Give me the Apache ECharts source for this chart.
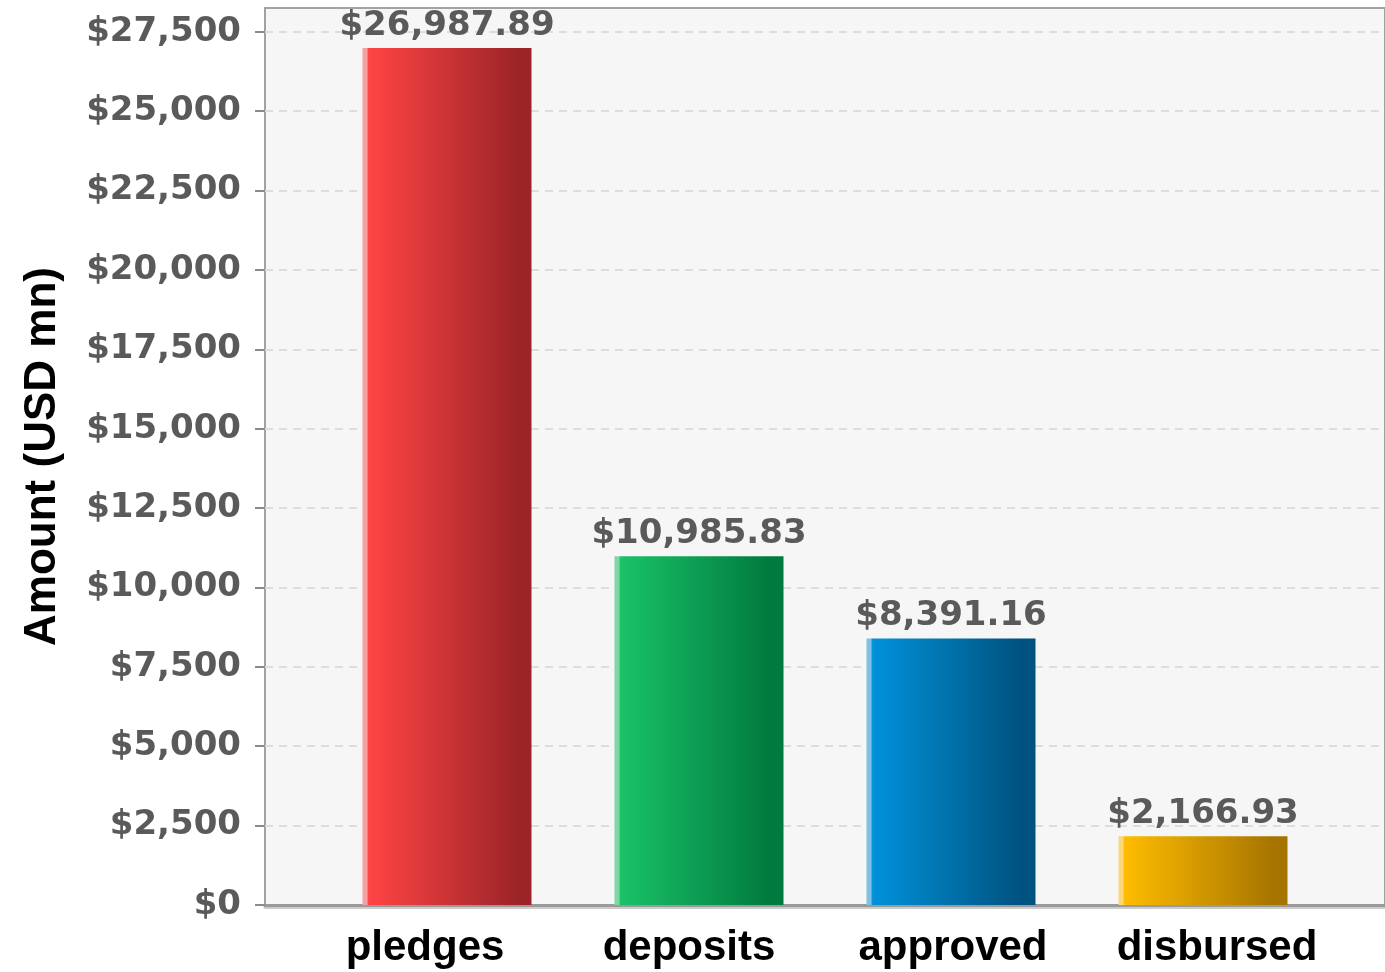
<!doctype html>
<html lang="en">
<head>
    <meta charset="UTF-8">
    <title>Amount (USD mn)</title>
    <style>
        html, body { margin: 0; padding: 0; background: #ffffff; }
        #chart { width: 1385px; height: 972px; }
    </style>
    <script src="https://cdn.jsdelivr.net/npm/echarts@6.0.0/dist/echarts.min.js"></script>
</head>
<body>
<div id="chart"></div>
<script type="text/javascript">
    // data
    var categories = ['pledges', 'deposits', 'approved', 'disbursed'];
    var amounts = [26987.89, 10985.83, 8391.16, 2166.93];
    var yTicks = [0, 2500, 5000, 7500, 10000, 12500, 15000, 17500, 20000, 22500, 25000, 27500];
    var yMax = 28250;

    // bar colours: [highlight, light, dark]
    var barColors = [
        ['#f6a2a2', '#ff4444', '#9c2428'],
        ['#80d6a6', '#1ac268', '#007a3e'],
        ['#80c0e2', '#0092da', '#005280'],
        ['#fcd67a', '#ffbc00', '#a67400']
    ];

    var money = function (v) {
        return '$' + v.toLocaleString('en-US');
    };
    var money2 = function (v) {
        return '$' + v.toLocaleString('en-US', { minimumFractionDigits: 2, maximumFractionDigits: 2 });
    };

    var barData = amounts.map(function (v, i) {
        var c = barColors[i];
        return {
            value: v,
            itemStyle: {
                color: new echarts.graphic.LinearGradient(0, 0, 1, 0, [
                    { offset: 0, color: c[0] },
                    { offset: 0.025, color: c[0] },
                    { offset: 0.036, color: c[1] },
                    { offset: 0.92, color: c[2] },
                    { offset: 1, color: c[2] }
                ])
            }
        };
    });

    var myChart = echarts.init(document.getElementById('chart'), null, { renderer: 'canvas' });
    var option = {
        backgroundColor: '#ffffff',
        animation: false,
        grid: [
            // frame + gridlines
            { left: 265, right: -4, top: 8, bottom: 67, show: true, backgroundColor: '#f6f6f6', borderColor: '#a2a2a2', borderWidth: 2 },
            // bars
            { left: 321, right: 56, top: 8, bottom: 67 },
            // category labels (spaced a little wider than the bars)
            { left: 293, right: 36, top: 8, bottom: 67 }
        ],
        xAxis: [
            {
                type: 'value', gridIndex: 0, min: 0, max: 1,
                axisLine: { show: true, lineStyle: { color: '#9a9a9a', width: 3, shadowColor: 'rgba(0,0,0,0.2)', shadowOffsetY: 2, shadowBlur: 0 } },
                axisTick: { show: false }, axisLabel: { show: false }, splitLine: { show: false }
            },
            {
                type: 'category', gridIndex: 1, data: categories,
                axisLine: { show: false }, axisTick: { show: false }, axisLabel: { show: false }
            },
            {
                type: 'category', gridIndex: 2, data: categories,
                axisLine: { show: false }, axisTick: { show: false },
                axisLabel: {
                    interval: 0, margin: 22, color: '#000000', fontFamily: 'Liberation Sans, Arial', fontWeight: 'bold', fontSize: 42
                }
            }
        ],
        yAxis: [
            {
                type: 'value', gridIndex: 0, min: 0, max: yMax,
                name: 'Amount (USD mn)', nameLocation: 'middle', nameGap: 200,
                nameTextStyle: { color: '#000000', fontFamily: 'Liberation Sans, Arial', fontWeight: 'bold', fontSize: 44 },
                axisLine: { show: false },
                axisTick: { show: true, customValues: yTicks, length: 10, lineStyle: { color: '#8a8a8a', width: 2 } },
                axisLabel: {
                    customValues: yTicks, margin: 24, formatter: money,
                    color: '#5a5a5a', fontFamily: 'DejaVu Sans', fontWeight: 'bold', fontSize: 34
                },
                splitLine: { show: true, lineStyle: { color: '#dddddd', width: 2, type: [8, 6] } }
            },
            {
                type: 'value', gridIndex: 1, min: 0, max: yMax, show: false
            },
            {
                type: 'value', gridIndex: 2, min: 0, max: yMax, show: false
            }
        ],
        series: [{
            type: 'bar',
            xAxisIndex: 1,
            yAxisIndex: 1,
            barWidth: 169,
            data: barData,
            label: {
                show: true, position: 'top', distance: 5, formatter: function (p) { return money2(p.value); },
                color: '#5a5a5a', fontFamily: 'DejaVu Sans', fontWeight: 'bold', fontSize: 34
            }
        }]
    };
    myChart.setOption(option);
</script>
</body>
</html>
